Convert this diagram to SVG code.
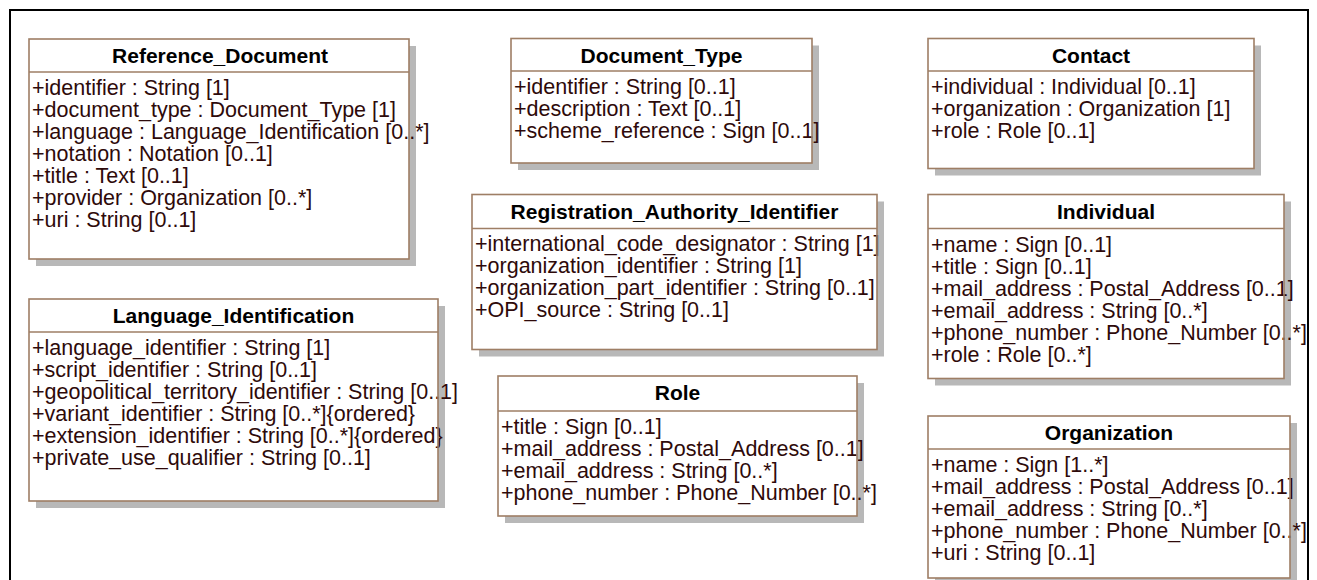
<svg xmlns="http://www.w3.org/2000/svg" width="1317" height="580" viewBox="0 0 1317 580">
<style>
.shadow{fill:#b8b8b8}
.fill{fill:#ffffff}
.outline{fill:none;stroke:#9e7e65;stroke-width:1.6}
.sep{stroke:#9e7e65;stroke-width:1.6}
.title{font-family:"Liberation Sans",Arial,sans-serif;font-size:21px;font-weight:bold;fill:#000;text-anchor:middle}
.attr{font-family:"Liberation Sans",Arial,sans-serif;font-size:21.5px;fill:#2e0a0a}
</style>
<rect x="0" y="0" width="1317" height="580" fill="#ffffff"/>
<rect x="10" y="10" width="1298" height="600" fill="none" stroke="#000" stroke-width="2"/>
<g id="connectors"/>

<g id="Reference_Document">
<rect class="shadow" x="36" y="46" width="380" height="220"/>
<rect class="fill" x="29" y="39" width="380" height="220"/>
<text class="title" x="220" y="63">Reference_Document</text>
<text class="attr" x="32" y="94.5">+identifier : String [1]</text>
<text class="attr" x="32" y="116.5">+document_type : Document_Type [1]</text>
<text class="attr" x="32" y="138.5">+language : Language_Identification [0..*]</text>
<text class="attr" x="32" y="160.5">+notation : Notation [0..1]</text>
<text class="attr" x="32" y="182.5">+title : Text [0..1]</text>
<text class="attr" x="32" y="204.5">+provider : Organization [0..*]</text>
<text class="attr" x="32" y="226.5">+uri : String [0..1]</text>
<rect class="outline" x="29" y="39" width="380" height="220"/>
<line class="sep" x1="29" y1="72" x2="409" y2="72"/>
</g>

<g id="Language_Identification">
<rect class="shadow" x="36" y="306" width="409" height="202"/>
<rect class="fill" x="29" y="299" width="409" height="202"/>
<text class="title" x="233.5" y="323">Language_Identification</text>
<text class="attr" x="32" y="354.5">+language_identifier : String [1]</text>
<text class="attr" x="32" y="376.5">+script_identifier : String [0..1]</text>
<text class="attr" x="32" y="398.5">+geopolitical_territory_identifier : String [0..1]</text>
<text class="attr" x="32" y="420.5">+variant_identifier : String [0..*]{ordered}</text>
<text class="attr" x="32" y="442.5">+extension_identifier : String [0..*]{ordered}</text>
<text class="attr" x="32" y="464.5">+private_use_qualifier : String [0..1]</text>
<rect class="outline" x="29" y="299" width="409" height="202"/>
<line class="sep" x1="29" y1="332" x2="438" y2="332"/>
</g>

<g id="Document_Type">
<rect class="shadow" x="518" y="45.5" width="301" height="124.5"/>
<rect class="fill" x="511" y="38.5" width="301" height="124.5"/>
<text class="title" x="661.5" y="62.5">Document_Type</text>
<text class="attr" x="514" y="93.5">+identifier : String [0..1]</text>
<text class="attr" x="514" y="115.5">+description : Text [0..1]</text>
<text class="attr" x="514" y="137.5">+scheme_reference : Sign [0..1]</text>
<rect class="outline" x="511" y="38.5" width="301" height="124.5"/>
<line class="sep" x1="511" y1="71" x2="812" y2="71"/>
</g>

<g id="Registration_Authority_Identifier">
<rect class="shadow" x="479" y="201.5" width="405" height="155"/>
<rect class="fill" x="472" y="194.5" width="405" height="155"/>
<text class="title" x="674.5" y="218.5">Registration_Authority_Identifier</text>
<text class="attr" x="475" y="251">+international_code_designator : String [1]</text>
<text class="attr" x="475" y="273">+organization_identifier : String [1]</text>
<text class="attr" x="475" y="295">+organization_part_identifier : String [0..1]</text>
<text class="attr" x="475" y="317">+OPI_source : String [0..1]</text>
<rect class="outline" x="472" y="194.5" width="405" height="155"/>
<line class="sep" x1="472" y1="228.5" x2="877" y2="228.5"/>
</g>

<g id="Role">
<rect class="shadow" x="505" y="383" width="359" height="140"/>
<rect class="fill" x="498" y="376" width="359" height="140"/>
<text class="title" x="677.5" y="400">Role</text>
<text class="attr" x="501" y="433.5">+title : Sign [0..1]</text>
<text class="attr" x="501" y="455.5">+mail_address : Postal_Address [0..1]</text>
<text class="attr" x="501" y="477.5">+email_address : String [0..*]</text>
<text class="attr" x="501" y="499.5">+phone_number : Phone_Number [0..*]</text>
<rect class="outline" x="498" y="376" width="359" height="140"/>
<line class="sep" x1="498" y1="411" x2="857" y2="411"/>
</g>

<g id="Contact">
<rect class="shadow" x="935" y="45.5" width="326" height="130"/>
<rect class="fill" x="928" y="38.5" width="326" height="130"/>
<text class="title" x="1091" y="62.5">Contact</text>
<text class="attr" x="931" y="93.5">+individual : Individual [0..1]</text>
<text class="attr" x="931" y="115.5">+organization : Organization [1]</text>
<text class="attr" x="931" y="137.5">+role : Role [0..1]</text>
<rect class="outline" x="928" y="38.5" width="326" height="130"/>
<line class="sep" x1="928" y1="71" x2="1254" y2="71"/>
</g>

<g id="Individual">
<rect class="shadow" x="935" y="201.5" width="356" height="184"/>
<rect class="fill" x="928" y="194.5" width="356" height="184"/>
<text class="title" x="1106" y="218.5">Individual</text>
<text class="attr" x="931" y="251.5">+name : Sign [0..1]</text>
<text class="attr" x="931" y="273.5">+title : Sign [0..1]</text>
<text class="attr" x="931" y="295.5">+mail_address : Postal_Address [0..1]</text>
<text class="attr" x="931" y="317.5">+email_address : String [0..*]</text>
<text class="attr" x="931" y="339.5">+phone_number : Phone_Number [0..*]</text>
<text class="attr" x="931" y="361.5">+role : Role [0..*]</text>
<rect class="outline" x="928" y="194.5" width="356" height="184"/>
<line class="sep" x1="928" y1="228.5" x2="1284" y2="228.5"/>
</g>

<g id="Organization">
<rect class="shadow" x="935" y="423" width="362" height="162"/>
<rect class="fill" x="928" y="416" width="362" height="162"/>
<text class="title" x="1109" y="440">Organization</text>
<text class="attr" x="931" y="471.5">+name : Sign [1..*]</text>
<text class="attr" x="931" y="493.5">+mail_address : Postal_Address [0..1]</text>
<text class="attr" x="931" y="515.5">+email_address : String [0..*]</text>
<text class="attr" x="931" y="537.5">+phone_number : Phone_Number [0..*]</text>
<text class="attr" x="931" y="559.5">+uri : String [0..1]</text>
<rect class="outline" x="928" y="416" width="362" height="162"/>
<line class="sep" x1="928" y1="449" x2="1290" y2="449"/>
</g>
</svg>
